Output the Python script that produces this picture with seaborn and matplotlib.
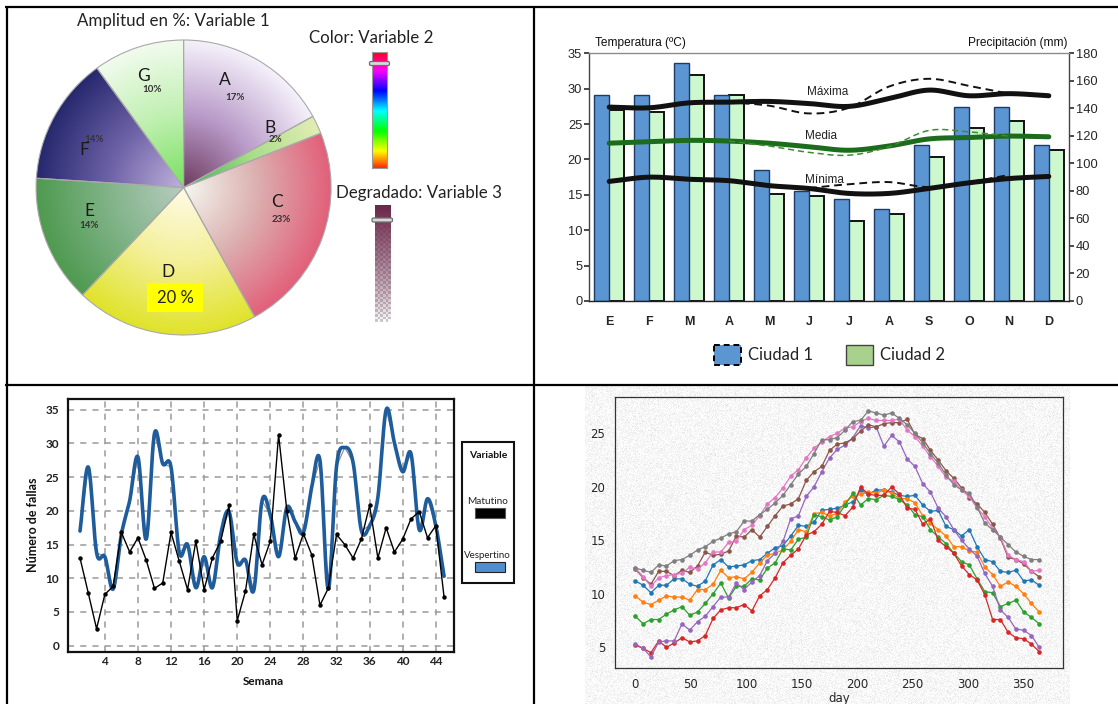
import numpy as np
import pandas as pd
import matplotlib
matplotlib.use("Agg")
import matplotlib.pyplot as plt
import seaborn as sns
from matplotlib.colors import LinearSegmentedColormap
from matplotlib.patches import Rectangle, FancyBboxPatch

# ---------------- data ----------------
pie_labels = ["A", "B", "C", "D", "E", "F", "G"]
pie_values = [17, 2, 23, 20, 14, 14, 10]

months = ["E", "F", "M", "A", "M", "J", "J", "A", "S", "O", "N", "D"]
rain_city1 = [150, 150, 173, 150, 95, 80, 74, 67, 113, 141, 141, 113]
rain_city2 = [139, 137, 164, 150, 78, 76, 58, 63, 105, 126, 131, 110]

t_max = [27.4, 27.3, 28.0, 28.1, 28.2, 27.9, 27.5, 28.6, 29.8, 29.0, 29.3, 29.0]
t_max_alt_months = [3, 4, 5, 6, 7, 8, 9, 10]
t_max_alt = [28.1, 27.6, 26.5, 27.3, 30.3, 31.4, 30.4, 29.3]
t_med = [22.3, 22.5, 22.7, 22.6, 22.3, 21.8, 21.3, 21.9, 22.9, 23.1, 23.3, 23.2]
t_med_alt_months = [3, 4, 5, 6, 7, 8, 9, 10]
t_med_alt = [22.6, 21.9, 21.0, 20.6, 21.8, 24.1, 23.9, 23.3]
t_min = [16.9, 17.5, 17.2, 17.0, 16.3, 15.9, 15.2, 15.2, 15.9, 16.7, 17.3, 17.6]
t_min_alt_months = [5, 6, 7, 8, 9, 10]
t_min_alt = [15.95, 16.5, 16.8, 16.1, 16.8, 17.8]

weeks = list(range(1, 46))
matutino = [13.0, 7.8, 2.5, 7.6, 8.8, 16.8, 13.9, 16.0, 12.7, 8.5,
            9.3, 16.8, 12.5, 8.3, 15.5, 8.3, 13.0, 15.5, 20.8, 3.7,
            8.1, 16.5, 12.0, 15.5, 31.3, 20.0, 13.0, 16.6, 13.5, 6.0,
            8.5, 16.5, 15.0, 13.0, 15.8, 20.8, 13.0, 17.5, 13.9, 15.8,
            18.8, 19.9, 16.0, 17.8, 7.2]
vespertino = [17.0, 26.5, 13.8, 13.2, 8.4, 16.5, 21.5, 28.0, 15.8, 31.5,
              27.0, 26.5, 13.8, 15.0, 8.6, 13.2, 8.6, 16.5, 19.9, 12.3,
              12.7, 8.2, 21.5, 19.4, 13.2, 20.5, 18.4, 16.8, 23.5, 27.5,
              8.4, 26.6, 29.4, 27.2, 17.1, 17.8, 22.0, 35.0, 30.1, 25.8,
              28.5, 17.2, 21.8, 17.8, 10.3]

days = list(range(0, 365, 7))
s_blue = [11.2, 10.8, 10.1, 10.8, 10.8, 11.4, 11.4, 10.9, 10.7, 11.2,
          12.7, 13.2, 12.5, 12.6, 12.7, 13.1, 13.2, 13.8, 14.3, 14.5,
          15.4, 16.4, 16.3, 16.7, 17.8, 17.9, 18.0, 18.3, 18.6, 19.7,
          19.3, 19.7, 19.7, 19.5, 19.2, 19.1, 19.2, 18.3, 17.7, 17.8,
          16.3, 16.0, 15.4, 16.0, 14.4, 13.2, 13.0, 12.1, 12.0, 12.2,
          11.2, 11.3, 10.8]
s_orange = [9.8, 9.2, 9.0, 9.4, 9.8, 9.7, 9.7, 9.4, 10.4, 10.4,
            10.9, 12.2, 11.5, 11.6, 11.4, 12.0, 12.9, 13.6, 13.8, 14.1,
            14.9, 16.0, 15.8, 17.5, 17.6, 17.3, 17.5, 18.6, 19.1, 19.3,
            19.5, 19.4, 19.7, 19.4, 18.9, 18.9, 18.5, 17.3, 16.6, 16.0,
            15.4, 14.4, 14.4, 14.0, 13.9, 12.5, 11.8, 10.7, 11.1, 10.7,
            10.0, 9.1, 8.3]
s_green = [7.9, 7.2, 7.6, 7.6, 8.1, 8.5, 8.8, 8.0, 8.3, 9.1,
           10.0, 11.0, 9.6, 10.7, 10.7, 11.4, 11.3, 12.4, 12.9, 14.2,
           14.1, 15.1, 15.3, 17.4, 17.2, 16.9, 17.2, 18.3, 19.4, 18.3,
           18.9, 18.8, 19.2, 19.1, 18.8, 18.3, 17.4, 17.2, 16.0, 15.3,
           14.7, 13.8, 13.0, 12.7, 11.4, 10.2, 10.1, 8.8, 9.1, 9.4,
           8.3, 7.8, 7.2]
s_red = [5.2, 4.9, 4.5, 5.6, 5.0, 5.4, 5.9, 5.5, 5.6, 6.1,
         7.7, 8.5, 8.7, 8.7, 9.0, 8.4, 9.8, 10.4, 11.5, 12.9,
         13.6, 14.2, 15.5, 15.8, 16.5, 17.7, 17.6, 17.3, 18.1, 20.0,
         19.3, 19.2, 19.2, 20.0, 19.3, 18.0, 17.9, 16.5, 17.0, 15.0,
         14.4, 13.8, 12.6, 11.8, 11.3, 9.9, 7.6, 7.6, 6.4, 5.9,
         5.8, 5.3, 4.6]
s_purple = [5.3, 4.9, 4.1, 5.5, 5.6, 5.6, 7.2, 6.6, 7.4, 7.9,
            8.8, 9.7, 9.7, 11.0, 10.4, 11.1, 11.7, 13.1, 13.8, 14.9,
            17.0, 17.3, 19.1, 20.0, 21.4, 22.7, 23.5, 23.9, 24.6, 25.7,
            25.5, 25.6, 23.8, 24.8, 24.2, 22.6, 21.9, 20.3, 19.5, 18.0,
            17.2, 16.0, 15.0, 14.2, 13.5, 11.9, 10.7, 8.5, 7.8, 6.7,
            6.6, 6.1, 5.0]
s_brown = [12.3, 11.5, 10.9, 12.1, 12.1, 11.7, 12.2, 12.0, 12.6, 13.9,
           13.6, 13.7, 14.0, 15.4, 15.3, 16.0, 15.3, 16.3, 17.3, 18.2,
           18.4, 18.9, 20.6, 21.4, 21.9, 23.4, 24.0, 24.1, 24.5, 25.2,
           25.8, 25.6, 25.9, 26.0, 26.0, 26.3, 24.9, 24.5, 23.4, 22.5,
           21.5, 20.8, 19.9, 19.0, 18.4, 17.6, 16.5, 15.2, 13.4, 13.2,
           12.8, 12.1, 11.6]
s_pink = [12.4, 11.6, 10.7, 11.5, 11.7, 11.8, 11.9, 12.5, 12.3, 12.9,
          13.9, 13.9, 14.8, 14.9, 16.0, 16.4, 17.3, 18.4, 19.0, 19.9,
          21.0, 21.6, 22.7, 23.6, 24.2, 24.7, 25.0, 25.5, 25.6, 26.1,
          26.4, 26.2, 26.2, 26.2, 26.3, 25.3, 24.7, 23.8, 22.8, 21.9,
          20.9, 20.5, 19.7, 19.1, 18.0, 17.2, 16.1, 15.3, 13.6, 13.2,
          13.0, 12.1, 12.2]
s_gray = [12.4, 12.2, 12.0, 12.7, 12.6, 13.1, 13.2, 13.6, 14.1, 14.4,
          14.9, 15.2, 15.6, 15.8, 16.8, 16.8, 17.4, 17.9, 18.5, 19.2,
          20.2, 21.2, 21.9, 23.1, 24.4, 24.4, 24.6, 25.3, 26.1, 26.2,
          27.1, 26.9, 26.7, 26.9, 26.4, 25.8, 25.0, 24.1, 23.1, 22.2,
          21.1, 20.2, 19.7, 19.4, 18.1, 16.6, 16.0, 15.3, 14.6, 13.9,
          13.5, 13.2, 13.2]

# ---------------- style ----------------
sns.set_theme(style="white")
plt.rcParams["font.family"] = ["DejaVu Sans"]

W, H = 1118, 704
fig = plt.figure(figsize=(W / 100, H / 100), dpi=100)


def px_axes(l, t, r, b, **kw):
    return fig.add_axes([l / W, 1 - b / H, (r - l) / W, (b - t) / H], **kw)


def px_text(x, y, s, **kw):
    kw.setdefault("ha", "center")
    kw.setdefault("va", "center")
    return fig.text(x / W, 1 - y / H, s, **kw)


def smooth_curve(x, y, n=24):
    """Catmull-Rom curve through the given points."""
    x = np.asarray(x, float)
    y = np.asarray(y, float)
    px = np.r_[2 * x[0] - x[1], x, 2 * x[-1] - x[-2]]
    py = np.r_[2 * y[0] - y[1], y, 2 * y[-1] - y[-2]]
    t = np.linspace(0, 1, n, endpoint=False)[:, None]
    xs, ys = [], []
    for i in range(1, len(px) - 2):
        P = np.array([[px[j], py[j]] for j in range(i - 1, i + 3)])
        seg = 0.5 * (2 * P[1] + (-P[0] + P[2]) * t
                     + (2 * P[0] - 5 * P[1] + 4 * P[2] - P[3]) * t ** 2
                     + (-P[0] + 3 * P[1] - 3 * P[2] + P[3]) * t ** 3)
        xs.append(seg[:, 0])
        ys.append(seg[:, 1])
    xs.append([x[-1]])
    ys.append([y[-1]])
    return np.concatenate(xs), np.concatenate(ys)


# grainy backdrop of the lower-right panel
rng = np.random.default_rng(7)
grain = np.clip(0.968 + 0.03 * rng.standard_normal((318, 485)), 0.85, 1.0)
axg = px_axes(585, 386, 1070, 704)
axg.imshow(grain, cmap="gray", vmin=0, vmax=1, aspect="auto", interpolation="nearest")
axg.axis("off")

# ================= panel 1: gradient pie =================
PIE_FONT = ["Lato", "DejaVu Sans"]
ax1 = px_axes(36.1, 40, 331.1, 335)
wedges, _ = ax1.pie(pie_values, startangle=90, counterclock=False, radius=1,
                    wedgeprops=dict(facecolor="none", edgecolor="#a9a9a9", linewidth=0.8))
wedge_stops = {
    "A": ["#6d3a5e", "#b99bc9", "#f5f1fb"],
    "B": ["#2fb84a", "#a8dd88", "#e2edb4"],
    "C": ["#f4f8f0", "#dcb0b0", "#e2607a"],
    "D": ["#fffbe8", "#f4f09a", "#e0e32a"],
    "E": ["#b8ccc0", "#82b48a", "#4f9a50"],
    "F": ["#c0b2dc", "#6f63a8", "#26286e"],
    "G": ["#78e060", "#bff0b0", "#f2fbee"],
}
gx = np.linspace(-1, 1, 400)
GX, GY = np.meshgrid(gx, gx)
R = np.sqrt(GX ** 2 + GY ** 2)
for lab, w in zip(pie_labels, wedges):
    cm = LinearSegmentedColormap.from_list(lab, wedge_stops[lab])
    im = ax1.imshow(R, cmap=cm, vmin=0, vmax=1, extent=(-1, 1, -1, 1),
                    origin="lower", zorder=1, interpolation="bilinear")
    im.set_clip_path(w)
    w.set_zorder(2)
ax1.set_xlim(-1, 1)
ax1.set_ylim(-1, 1)
ax1.axis("off")

letter_pos = {"A": (224.8, 80), "B": (270.5, 128), "C": (276.5, 202), "D": (168, 272),
              "E": (89.6, 211), "F": (84.5, 150), "G": (143.7, 76)}
pct_pos = {"A": (235, 98), "B": (275.5, 140), "C": (281.6, 219),
           "E": (88.6, 226), "F": (94, 139), "G": (152, 90)}
for lab, v in zip(pie_labels, pie_values):
    px_text(*letter_pos[lab], lab, fontsize=12.5, family=PIE_FONT, color="#1a1a1a")
    if lab in pct_pos:
        px_text(*pct_pos[lab], f"{v}%", fontsize=7, fontweight="bold",
                family=PIE_FONT, color="#333333")
d_val = pie_values[pie_labels.index("D")]

px_text(173.7, 21, "Amplitud en %: Variable 1", fontsize=12.2, family=PIE_FONT, color="#222")
px_text(371, 38, "Color: Variable 2", fontsize=12.2, family=PIE_FONT, color="#222")
px_text(419, 193, "Degradado: Variable 3", fontsize=12.2, family=PIE_FONT, color="#222")

axc = px_axes(372, 52, 387, 168)
axc.imshow(np.linspace(1.0, 0.03, 240)[:, None], cmap="hsv", vmin=0, vmax=1,
           aspect="auto", extent=(0, 1, 0, 1))
axc.set_xticks([])
axc.set_yticks([])
for s in axc.spines.values():
    s.set_color("#9a9a9a")
    s.set_linewidth(0.8)

axd = px_axes(374.6, 205, 390, 322)
checker = np.add.outer(np.arange(46), np.arange(6)) % 2
axd.imshow(np.where(checker, 0.80, 1.0), cmap="gray", vmin=0, vmax=1,
           aspect="auto", extent=(0, 1, 0, 1), interpolation="nearest")
fade = np.zeros((240, 1, 4))
fade[..., 0], fade[..., 1], fade[..., 2] = 0.42, 0.15, 0.29
fade[:, 0, 3] = np.linspace(1.0, 0.0, 240) ** 0.8
axd.imshow(fade, aspect="auto", extent=(0, 1, 0, 1))
axd.set_xticks([])
axd.set_yticks([])
for s in axd.spines.values():
    s.set_visible(False)

# ================= panel 2: bars + temperature curves =================
BAR_FONT = ["Liberation Sans", "DejaVu Sans"]
ax_t = px_axes(589.2, 53.3, 1068.8, 301)
ax_p = ax_t.twinx()
rain = pd.DataFrame({
    "mes": list(range(12)) * 2,
    "ciudad": ["Ciudad 1"] * 12 + ["Ciudad 2"] * 12,
    "mm": rain_city1 + rain_city2,
})
sns.barplot(data=rain, x="mes", y="mm", hue="ciudad", hue_order=["Ciudad 1", "Ciudad 2"],
            palette={"Ciudad 1": "#5b96d3", "Ciudad 2": "#cdf7cd"}, width=0.75,
            saturation=1, errorbar=None, legend=False, ax=ax_p)
for bar in ax_p.containers[0]:
    bar.set_edgecolor("#1d3b66")
    bar.set_linewidth(1.0)
    bar.set_zorder(3)
for bar in ax_p.containers[1]:
    bar.set_edgecolor("#111111")
    bar.set_linewidth(1.4)
    bar.set_zorder(2)
ax_p.set_ylim(0, 180)
ax_p.set_yticks(range(0, 181, 20))
ax_p.set_ylabel("")
ax_p.set_xlabel("")

ax_t.set_zorder(ax_p.get_zorder() + 1)
ax_t.patch.set_visible(False)
month_idx = np.arange(12)
for xs, ys, col, lw, ls in [
    (month_idx, t_max, "#111111", 3.6, "-"),
    (t_max_alt_months, t_max_alt, "#111111", 1.4, (0, (4, 2.5))),
    (month_idx, t_med, "#1d6b1d", 3.6, "-"),
    (t_med_alt_months, t_med_alt, "#3d8c2f", 1.1, (0, (4, 2.5))),
    (month_idx, t_min, "#111111", 3.6, "-"),
    (t_min_alt_months, t_min_alt, "#111111", 1.4, (0, (4, 2.5))),
]:
    cx, cy = smooth_curve(xs, ys)
    ax_t.plot(cx, cy, color=col, lw=lw, ls=ls, solid_capstyle="round")
ax_t.text(5.47, 29.5, "Máxima", fontsize=8.5, family=BAR_FONT, ha="center", va="center", color="#222")
ax_t.text(5.31, 23.3, "Media", fontsize=8.5, family=BAR_FONT, ha="center", va="center", color="#222")
ax_t.text(5.39, 17.1, "Mínima", fontsize=8.5, family=BAR_FONT, ha="center", va="center", color="#222")

ax_t.set_xlim(-0.5, 11.5)
ax_t.set_ylim(0, 35)
ax_t.set_yticks(range(0, 36, 5))
ax_t.set_xticks(month_idx)
ax_t.set_xticklabels(months, fontweight="bold", fontsize=9, family=BAR_FONT)
ax_t.set_xticks(np.arange(-0.5, 12, 1), minor=True)
ax_t.tick_params(axis="x", which="major", length=0, pad=11)
ax_t.tick_params(axis="x", which="minor", length=5, direction="inout", width=1, color="#333")
ax_t.tick_params(axis="y", direction="out", length=3.5, pad=1.5, labelsize=9.3, color="#333")
ax_p.tick_params(axis="y", direction="out", length=3.5, pad=1.5, labelsize=9.3, color="#333")
for lbl in ax_t.get_yticklabels() + ax_p.get_yticklabels():
    lbl.set_family(BAR_FONT)
ax_t.spines["top"].set_color("#8c8c8c")
ax_t.spines["left"].set_color("#444")
ax_t.spines["bottom"].set_color("#222")
ax_t.spines["right"].set_visible(False)
for k in ("left", "top", "bottom"):
    ax_p.spines[k].set_visible(False)
ax_p.spines["right"].set_color("#444")
for sp in list(ax_t.spines.values()) + [ax_p.spines["right"]]:
    sp.set_linewidth(1.0)
ax_t.set_xlabel("")
ax_t.set_ylabel("")

px_text(640, 43, "Temperatura (ºC)", fontsize=8.6, family=BAR_FONT, color="#111")
px_text(1018, 43, "Precipitación (mm)", fontsize=8.6, family=BAR_FONT, color="#111")
px_text(747.5, 355, "Ciudad 1", fontsize=12, family=PIE_FONT, ha="left", color="#222")
px_text(880, 355, "Ciudad 2", fontsize=12, family=PIE_FONT, ha="left", color="#222")

# ================= panel 3: weekly failures =================
WK_FONT = ["Lato", "DejaVu Sans"]
ax3 = px_axes(67.6, 399, 454, 651.7)
sns.lineplot(x=weeks, y=vespertino, ax=ax3, color="#8a8a8a", lw=0.8)
vx, vy = smooth_curve(weeks, vespertino, n=20)
ax3.plot(vx, vy, color="#1f5c9c", lw=2.6, solid_capstyle="round")
sns.lineplot(x=weeks, y=matutino, ax=ax3, color="black", lw=1.0, marker="o",
             markersize=3.2, markeredgewidth=0)
ax3.set_xlim(-0.5, 46.2)
ax3.set_ylim(-0.9, 36.6)
ax3.set_xticks(range(4, 45, 4))
ax3.set_yticks(range(0, 36, 5))
ax3.grid(True, ls=(0, (4, 4)), color="#9a9a9a", lw=1.1)
ax3.set_axisbelow(True)
ax3.tick_params(axis="y", direction="out", length=4, pad=2, labelsize=8.5, color="#555")
ax3.tick_params(axis="x", direction="out", length=0, pad=3, labelsize=8.5)
for lbl in ax3.get_xticklabels() + ax3.get_yticklabels():
    lbl.set_family(WK_FONT)
    lbl.set_fontweight("bold")
    lbl.set_color("#222")
for sp in ax3.spines.values():
    sp.set_color("#111")
    sp.set_linewidth(1.6)
ax3.set_xlabel("")
ax3.set_ylabel("")
px_text(263, 681.7, "Semana", fontsize=8.5, fontweight="bold", family=WK_FONT, color="#111")
px_text(32.8, 525, "Número de fallas", fontsize=9, fontweight="bold", family=WK_FONT,
        color="#111", rotation=90)

# ================= panel 4: daily temperature series =================
series = {"s1": s_blue, "s2": s_orange, "s3": s_green, "s4": s_red,
          "s5": s_purple, "s6": s_brown, "s7": s_pink, "s8": s_gray}
long = pd.DataFrame([(name, d, v) for name, vals in series.items() for d, v in zip(days, vals)],
                    columns=["serie", "day", "temp"])
ax4 = px_axes(615.2, 396.7, 1062.5, 668.3)
ax4.patch.set_visible(False)
sns.lineplot(data=long, x="day", y="temp", hue="serie", palette="tab10", marker="o",
             markersize=3.3, markeredgewidth=0, lw=0.9, legend=False, ax=ax4)
ax4.set_xlim(-18.2, 385)
ax4.set_ylim(3.04, 28.42)
ax4.set_xticks(range(0, 351, 50))
ax4.set_yticks(range(5, 26, 5))
ax4.tick_params(direction="out", length=3.5, width=0.8, labelsize=8.5, color="#222")
for sp in ax4.spines.values():
    sp.set_color("#333")
    sp.set_linewidth(0.9)
ax4.set_ylabel("")
ax4.set_xlabel("day", fontsize=8.5, labelpad=1)

# ================= overlay: table rules and small decorations =================
axo = fig.add_axes([0, 0, 1, 1], facecolor="none")
axo.set_zorder(20)
axo.set_xlim(0, W)
axo.set_ylim(H, 0)
axo.axis("off")
for xs, ys in [([5, W], [7, 7]), ([5, W], [385, 385]), ([7, 7], [7, H]), ([534, 534], [7, H])]:
    axo.plot(xs, ys, color="black", lw=1.6, solid_capstyle="butt")

# pie: highlighted label of the largest lower slice
axo.add_patch(Rectangle((147, 283), 56, 29, facecolor="#ffff00", edgecolor="none", zorder=1))
axo.text(175, 298, f"{d_val} %", fontsize=12, family=PIE_FONT, ha="center", va="center",
         color="#222", zorder=2)
# slider handles on the two colour bars
for (x0, x1, yc) in [(369.5, 389.5, 63.5), (372, 392.5, 220)]:
    axo.add_patch(FancyBboxPatch((x0, yc - 2), x1 - x0, 4,
                                 boxstyle="round,pad=0,rounding_size=1.5",
                                 facecolor="#d8d8d8", edgecolor="#6e6e6e", lw=0.9))
# legend keys (bars)
axo.add_patch(Rectangle((713.7, 345), 27.3, 20, facecolor="#5b96d3", edgecolor="black",
                        ls=(0, (3, 2)), lw=1.4))
axo.add_patch(Rectangle((846, 345), 27, 20, facecolor="#a9d18e", edgecolor="#444", lw=1.0))
# legend box (weekly failures)
axo.add_patch(Rectangle((461.5, 441.7), 52.4, 141, facecolor="white", edgecolor="#111",
                        lw=1.5, zorder=0.5))
axo.add_patch(Rectangle((475, 508), 29.7, 9.5, facecolor="black", edgecolor="#555", lw=0.8))
axo.add_patch(Rectangle((475, 561.7), 29.7, 10.6, facecolor="#4f8fd0", edgecolor="#222", lw=0.8))
axo.text(487.8, 455.7, "Variable", fontsize=7.5, fontweight="bold", family=WK_FONT,
         color="#111", ha="center", va="center")
axo.text(487.8, 501.7, "Matutino", fontsize=7.2, family=WK_FONT, color="#222",
         ha="center", va="center")
axo.text(487.8, 555, "Vespertino", fontsize=7.0, family=WK_FONT, color="#222",
         ha="center", va="center")

fig.savefig("out.png", dpi=100)
